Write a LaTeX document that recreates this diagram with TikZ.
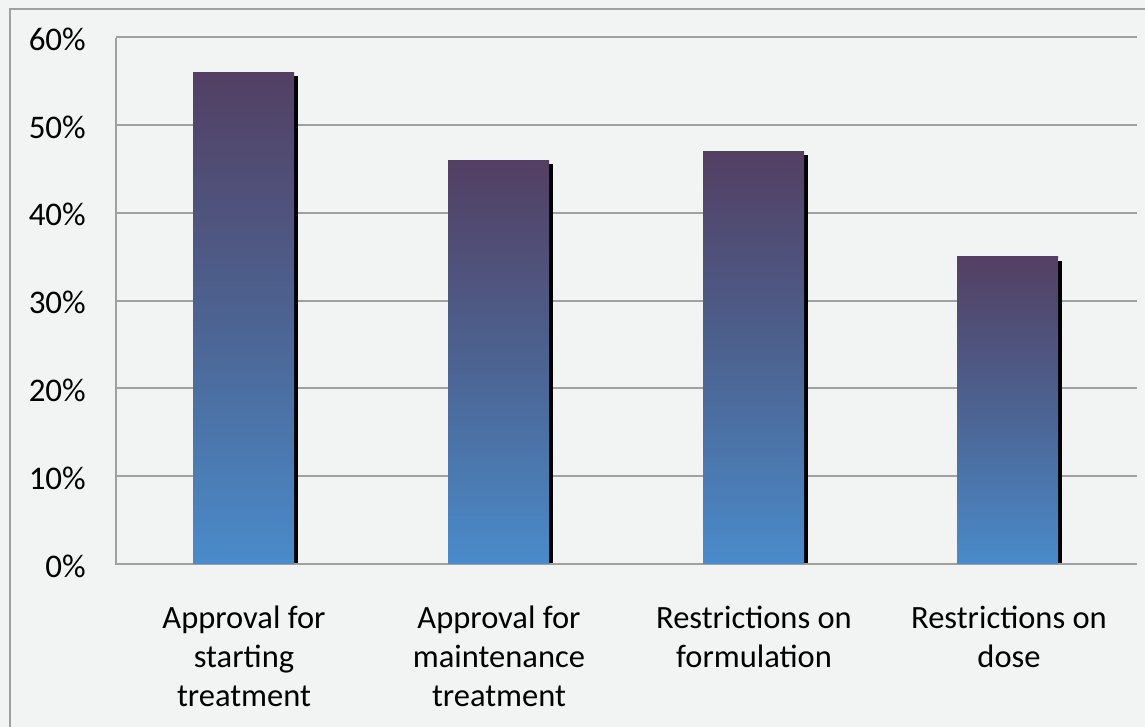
\documentclass[tikz,border=0pt]{standalone}
\usepackage{fontspec}
\setmainfont{Carlito}
\definecolor{bgc}{HTML}{F2F3F3}
\definecolor{gridc}{HTML}{A0A0A0}
\definecolor{bartop}{HTML}{533F63}
\definecolor{barmid}{HTML}{4C6391}
\definecolor{barbot}{HTML}{4A8BCA}
\tikzset{
  gridline/.style={draw=gridc, line width=2pt},
  frameline/.style={draw=gridc, line width=2.2pt},
  barbox/.style={top color=bartop, bottom color=barbot, middle color=barmid, draw=none},
  barshadow/.style={fill=black, draw=none},
  ticklabel/.style={anchor=east, font=\fontsize{33}{38}\selectfont, inner sep=0pt},
  catlabel/.style={anchor=base, align=center, font=\fontsize{32.5}{39}\selectfont, inner sep=0pt},
}
\begin{document}
\begin{tikzpicture}[x=1pt,y=-1pt]
\useasboundingbox (0,0) rectangle (1145,727);
\fill[bgc] (0,0) rectangle (1145,727);
% frame (only left and top are visible)
\draw[frameline] (10,727) -- (10,9) -- (1145,9);
% gridlines
\foreach \v/\lab in {0/0\%,10/10\%,20/20\%,30/30\%,40/40\%,50/50\%,60/60\%}{
  \pgfmathsetmacro{\yy}{564-8.78*\v}
  \draw[gridline] (116,\yy) -- (1137,\yy);
  \node[ticklabel] (t\v) at (86,\yy+2) {\lab};
}
\draw[gridline] (116,38) -- (116,565);
% bars
\foreach \i/\xl/\val in {1/193/56,2/448/46,3/703/47,4/957/35}{
  \pgfmathsetmacro{\yt}{564-8.78*\val}
  \fill[barshadow] (\xl+5,\yt+4) rectangle (\xl+105,563);
  \shade[barbox] (\xl,\yt) rectangle (\xl+101,563);
}
% category labels (anchor = baseline of last line)
\node[catlabel] (c1) at (244,706) {Approval for\\starting\\treatment};
\node[catlabel] (c2) at (499,706) {Approval for\\maintenance\\treatment};
\node[catlabel] (c3) at (754,667) {Restrictions on\\formulation};
\node[catlabel] (c4) at (1009,667) {Restrictions on\\dose};
\end{tikzpicture}
\end{document}
